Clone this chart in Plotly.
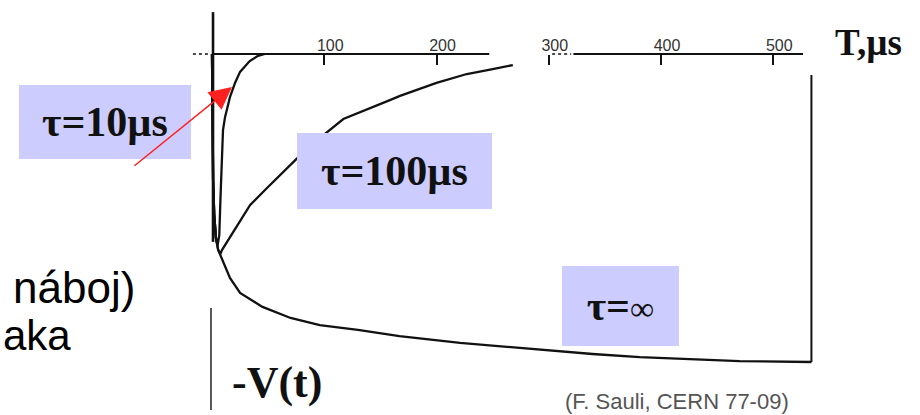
import plotly.graph_objects as go

# Signal shapes -V(t) for three shaping time constants (t in microseconds,
# amplitude normalised to the tau = infinity value at the end of the trace)
t_inf = [0, 0.4, 1, 2, 3.5, 5.5, 8, 12, 16, 25, 45, 70, 96, 130, 167, 221, 292, 339, 381, 420, 470, 534]
v_inf = [0, 0.214, 0.409, 0.523, 0.597, 0.636, 0.659, 0.695, 0.727, 0.776, 0.821, 0.857, 0.880,
         0.896, 0.916, 0.938, 0.961, 0.974, 0.984, 0.990, 0.997, 1.000]

t_100 = [0, 0.4, 1, 2, 3.5, 5.5, 7.5, 9, 18.7, 34, 49, 56, 76, 96, 117, 159, 167.5, 200, 227, 250, 268]
v_100 = [0, 0.214, 0.409, 0.523, 0.597, 0.636, 0.649, 0.636, 0.581, 0.490, 0.435, 0.409, 0.338,
         0.273, 0.211, 0.149, 0.136, 0.094, 0.065, 0.049, 0.036]

t_10 = [0, 0.4, 1, 2, 3.5, 5, 6.5, 7.5, 8.5, 9.8, 11.6, 16, 20.5, 25, 33.6, 41, 47]
v_10 = [0, 0.214, 0.409, 0.523, 0.597, 0.620, 0.588, 0.474, 0.344, 0.247, 0.205, 0.140, 0.094,
        0.058, 0.023, 0.006, 0]

tick_vals = [100, 200, 300, 400, 500]
tick_text = ["100", "200", "300", "400", "500"]

labels = ["τ=10µs", "τ=100µs", "τ=∞"]

W, H = 920, 415
X_RANGE = [-188.86, 630.73]
Y_RANGE = [1.17208, -0.17532]   # reversed: signal grows downwards
AXIS_PAPER_Y = 1 - 54 / H

SERIF = "Liberation Serif, Times New Roman, serif"
SANS = "Liberation Sans, Arial, sans-serif"
INK = "#111111"
BOX = "#ccccff"


def px(x):
    return x / W


def py(y):
    return 1 - y / H


fig = go.Figure()
for t, v in [(t_inf, v_inf), (t_100, v_100), (t_10, v_10)]:
    fig.add_trace(go.Scatter(x=t, y=v, mode="lines", line=dict(color=INK, width=2.3),
                             hoverinfo="skip", showlegend=False))

# time axis with a break, vertical amplitude axis and end-of-pulse line
line_style = dict(color=INK, width=2)
shapes = [
    dict(type="line", xref="x", yref="y", x0=0.9, x1=247, y0=0, y1=0, line=line_style),
    dict(type="line", xref="x", yref="y", x0=322, x1=526.5, y0=0, y1=0, line=line_style),
    dict(type="line", xref="x", yref="y", x0=-17, x1=-2, y0=0, y1=0,
         line=dict(color=INK, width=1.5, dash="dot")),
    dict(type="line", xref="x", yref="y", x0=303, x1=320, y0=0, y1=0,
         line=dict(color=INK, width=1.5, dash="dot")),
    dict(type="line", xref="x", yref="y", x0=0.9, x1=0.9, y0=-0.136, y1=0.61,
         line=dict(color=INK, width=2.6)),
    dict(type="line", xref="x", yref="y", x0=-0.9, x1=-0.9, y0=0.825, y1=1.156,
         line=dict(color=INK, width=1.4)),
    dict(type="line", xref="x", yref="y", x0=t_inf[-1], x1=t_inf[-1], y0=0.068, y1=v_inf[-1],
         line=line_style),
]

annotations = []
# tau labels on lavender panels
box_specs = [(105, 122, 172, 74), (394.5, 171, 195, 76), (620.5, 306, 117, 80)]
texts = ["<b>" + labels[0] + "</b>", "<b>" + labels[1] + "</b>",
         "<b>τ=</b><span style='font-size:34px'>∞</span>"]
for (cx, cy, w, h), txt in zip(box_specs, texts):
    annotations.append(dict(x=px(cx), y=py(cy), xref="paper", yref="paper", text=txt,
                            showarrow=False, xanchor="center", yanchor="middle",
                            width=w, height=h, bgcolor=BOX, borderpad=0, borderwidth=0,
                            font=dict(family=SERIF, size=42, color=INK)))

# red pointer to the tau = 10 us curve
annotations.append(dict(x=17.8, y=0.107, xref="x", yref="y", ax=-99, ay=80, text="",
                        showarrow=True, arrowhead=2, arrowsize=3, arrowwidth=1.5,
                        arrowcolor="#ff2020"))

annotations += [
    dict(x=px(868), y=py(42), xref="paper", yref="paper", text="<b>T,µs</b>", showarrow=False,
         xanchor="center", yanchor="middle", font=dict(family=SERIF, size=37, color=INK)),
    dict(x=px(277), y=py(382), xref="paper", yref="paper", text="<b>-V(t)</b>", showarrow=False,
         xanchor="center", yanchor="middle", font=dict(family=SERIF, size=44, color=INK)),
    dict(x=px(137), y=py(287), xref="paper", yref="paper", text="náboj)", showarrow=False,
         xanchor="right", yanchor="middle", font=dict(family=SANS, size=44, color="#000")),
    dict(x=px(1), y=py(335), xref="paper", yref="paper", text="aka", showarrow=False,
         xanchor="left", yanchor="middle", font=dict(family=SANS, size=42, color="#000")),
    dict(x=px(677), y=py(401), xref="paper", yref="paper", text="(F. Sauli, CERN 77-09)",
         showarrow=False, xanchor="center", yanchor="middle",
         font=dict(family=SANS, size=22, color="#555555")),
]

fig.update_layout(
    width=W, height=H, margin=dict(l=0, r=0, t=0, b=0),
    paper_bgcolor="white", plot_bgcolor="white", showlegend=False,
    xaxis=dict(range=X_RANGE, side="top", anchor="free", position=AXIS_PAPER_Y,
               showline=False, showgrid=False, zeroline=False, automargin=False,
               ticks="inside", ticklen=10, tickwidth=1.5, tickcolor=INK,
               tickvals=tick_vals, ticktext=tick_text, ticklabelshift=6,
               tickfont=dict(family=SANS, size=16, color="#333333")),
    yaxis=dict(range=Y_RANGE, visible=False, showgrid=False, zeroline=False),
    shapes=shapes, annotations=annotations,
)

fig.write_html("out.html")
